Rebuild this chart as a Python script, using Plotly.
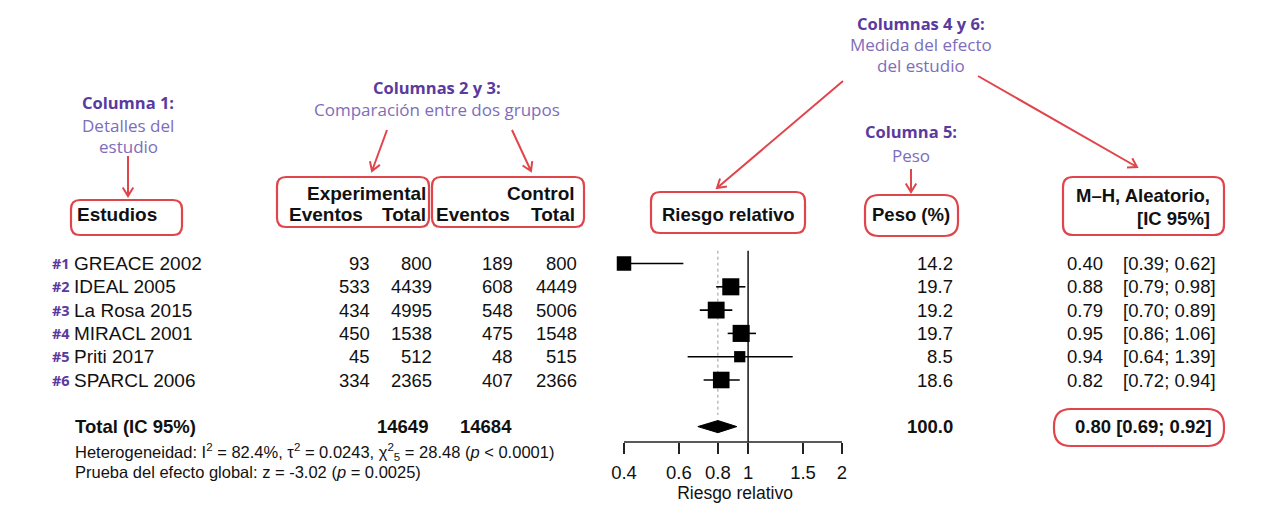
import math
import plotly.graph_objects as go

W, H = 1264, 509

# ---- study data ----
studies = ["GREACE 2002", "IDEAL 2005", "La Rosa 2015", "MIRACL 2001", "Priti 2017", "SPARCL 2006"]
study_tags = ["#1", "#2", "#3", "#4", "#5", "#6"]
exp_events = [93, 533, 434, 450, 45, 334]
exp_total = [800, 4439, 4995, 1538, 512, 2365]
ctrl_events = [189, 608, 548, 475, 48, 407]
ctrl_total = [800, 4449, 5006, 1548, 515, 2366]
weights = [14.2, 19.7, 19.2, 19.7, 8.5, 18.6]
rr = [0.40, 0.88, 0.79, 0.95, 0.94, 0.82]
ci_low = [0.39, 0.79, 0.70, 0.86, 0.64, 0.72]
ci_high = [0.62, 0.98, 0.89, 1.06, 1.39, 0.94]

# ---- pooled result ----
pooled_rr = 0.80
pooled_low = 0.69
pooled_high = 0.92
total_exp = 14649
total_ctrl = 14684
total_weight = 100.0

# ---- forest axis ----
axis_ticks = [0.4, 0.6, 0.8, 1, 1.5, 2]
axis_ticktext = ["0.4", "0.6", "0.8", "1", "1.5", "2"]

# ---- styling ----
RED = "#e0454b"
PURPLE_B = "#5a3a9e"
PURPLE_L = "#7d6dbb"
INK = "#111111"
TXT_FONT = "Liberation Sans, Arial, sans-serif"
CALL_FONT = "Open Sans, sans-serif"


def px(x):
    return x / W


def py(y):
    return 1 - y / H


# row layout: row index -> vertical pixel position
ROW0, STEP = 263.5, 23.3
rows = list(range(1, len(studies) + 1))
total_row = len(studies) + 2
axis_row = 1 + (442 - ROW0) / STEP

# forest plot horizontal mapping (log axis)
X_LEFT, X_RIGHT = 624, 842          # pixel positions of 0.4 and 2
DOM_L, DOM_R = 600, 870
scale = (X_RIGHT - X_LEFT) / (math.log10(axis_ticks[-1]) - math.log10(axis_ticks[0]))
xr0 = math.log10(axis_ticks[0]) - (X_LEFT - DOM_L) / scale
xr1 = math.log10(axis_ticks[-1]) + (DOM_R - X_RIGHT) / scale

y_top = 1 - ROW0 / STEP
y_bot = 1 + (H - ROW0) / STEP

fig = go.Figure()

# reference line at RR = 1
fig.add_trace(go.Scatter(x=[1, 1], y=[0.45, axis_row], mode="lines",
                         line=dict(color="#222", width=1.6), hoverinfo="skip"))
# dotted line at pooled estimate
fig.add_trace(go.Scatter(x=[pooled_rr, pooled_rr], y=[0.45, total_row - 0.5], mode="lines",
                         line=dict(color="#9a9a9a", width=1, dash="dot"), hoverinfo="skip"))
# axis baseline
fig.add_trace(go.Scatter(x=[axis_ticks[0], axis_ticks[-1]], y=[axis_row, axis_row], mode="lines",
                         line=dict(color="#222", width=1.6), hoverinfo="skip"))

# study estimates with confidence intervals
fig.add_trace(go.Scatter(
    x=rr, y=rows, mode="markers",
    marker=dict(symbol="square", color="black", opacity=1,
                size=[3.85 * math.sqrt(w) for w in weights], line=dict(width=0)),
    error_x=dict(type="data", symmetric=False,
                 array=[h - r for h, r in zip(ci_high, rr)],
                 arrayminus=[r - l for r, l in zip(rr, ci_low)],
                 width=0, thickness=1.6, color="black"),
    hoverinfo="skip"))

# pooled diamond
dh = 0.26
fig.add_trace(go.Scatter(
    x=[pooled_low, pooled_rr, pooled_high, pooled_rr, pooled_low],
    y=[total_row, total_row - dh, total_row, total_row + dh, total_row],
    mode="lines", fill="toself", fillcolor="black",
    line=dict(color="black", width=1), hoverinfo="skip"))

ann = []


def text(x, y, s, size=18.5, bold=False, anchor="left", color=INK, font=TXT_FONT, yref="paper"):
    if bold:
        s = f"<b>{s}</b>"
    ann.append(dict(x=x, y=y, xref="paper", yref=yref, text=s, showarrow=False,
                    xanchor=anchor, yanchor="middle",
                    font=dict(family=font, size=size, color=color)))


# ---- table headers ----
text(px(75), py(215), "Estudios", 19, True)
text(px(428), py(193), "Experimental", 19, True, "right")
text(px(287), py(214), "Eventos", 19, True)
text(px(428), py(214), "Total", 19, True, "right")
text(px(577), py(193), "Control", 19, True, "right")
text(px(434), py(214), "Eventos", 19, True)
text(px(577), py(214), "Total", 19, True, "right")
text(px(728), py(214), "Riesgo relativo", 18.5, True, "center")
text(px(911), py(215), "Peso (%)", 18.5, True, "center")
text(px(1212), py(196), "M–H, Aleatorio,", 18.5, True, "right")
text(px(1212), py(218), "[IC 95%]", 18.5, True, "right")

# ---- study rows ----
for i, r in enumerate(rows):
    text(px(50), r, study_tags[i], 14.5, True, "left", PURPLE_B, CALL_FONT, "y")
    text(px(72), r, studies[i], 19, False, "left", yref="y")
    text(px(372), r, str(exp_events[i]), yref="y", anchor="right")
    text(px(434), r, str(exp_total[i]), yref="y", anchor="right")
    text(px(515), r, str(ctrl_events[i]), yref="y", anchor="right")
    text(px(579), r, str(ctrl_total[i]), yref="y", anchor="right")
    text(px(955), r, f"{weights[i]:.1f}", yref="y", anchor="right")
    text(px(1065), r, f"{rr[i]:.2f}", yref="y", anchor="left")
    text(px(1218), r, f"[{ci_low[i]:.2f}; {ci_high[i]:.2f}]", yref="y", anchor="right")

# ---- totals ----
text(px(73), total_row, "Total (IC 95%)", 18.5, True, yref="y")
text(px(430), total_row, str(total_exp), 18.5, True, "right", yref="y")
text(px(514), total_row, str(total_ctrl), 18.5, True, "right", yref="y")
text(px(955), total_row, f"{total_weight:.1f}", 18.5, True, "right", yref="y")
text(px(1214), total_row,
     f"{pooled_rr:.2f} [{pooled_low:.2f}; {pooled_high:.2f}]", 18.5, True, "right", yref="y")

text(px(73), py(452),
     "Heterogeneidad: I<sup>2</sup> = 82.4%, τ<sup>2</sup> = 0.0243, "
     "χ<sup>2</sup><sub>5</sub> = 28.48 (<i>p</i> &lt; 0.0001)", 16.5)
text(px(73), py(472), "Prueba del efecto global: z = -3.02 (<i>p</i> = 0.0025)", 16.5)

# ---- callouts ----
callouts = [
    (128, 103, ["Columna 1:"], [(125, "Detalles del"), (146, "estudio")]),
    (437, 87, ["Columnas 2 y 3:"], [(109, "Comparación entre dos grupos")]),
    (921, 23, ["Columnas 4 y 6:"], [(44, "Medida del efecto"), (66, "del estudio")]),
    (911, 132, ["Columna 5:"], [(155, "Peso")]),
]
for cx, cy, bold_lines, lines in callouts:
    text(px(cx), py(cy), bold_lines[0], 16.5, True, "center", PURPLE_B, CALL_FONT)
    for ly, s in lines:
        text(px(cx), py(ly), s, 17, False, "center", PURPLE_L, CALL_FONT)

shapes = []

# ---- arrows (head, tail) in pixels, drawn as a shaft plus an open chevron ----
arrows = [
    ((128, 196), (128, 156)),
    ((372, 171), (387, 130)),
    ((531, 171), (512, 130)),
    ((717, 188), (843, 81)),
    ((1137, 167), (978, 76)),
    ((911, 192), (911, 169)),
]
HEAD_LEN, HEAD_ANG = 10, math.radians(32)
for (hx, hy), (tx, ty) in arrows:
    ang = math.atan2(ty - hy, tx - hx)
    a1, a2 = ang + HEAD_ANG, ang - HEAD_ANG
    p1 = (hx + HEAD_LEN * math.cos(a1), hy + HEAD_LEN * math.sin(a1))
    p2 = (hx + HEAD_LEN * math.cos(a2), hy + HEAD_LEN * math.sin(a2))
    path = (f"M{px(tx):.5f},{py(ty):.5f} L{px(hx):.5f},{py(hy):.5f} "
            f"M{px(p1[0]):.5f},{py(p1[1]):.5f} L{px(hx):.5f},{py(hy):.5f} "
            f"L{px(p2[0]):.5f},{py(p2[1]):.5f}")
    shapes.append(dict(type="path", xref="paper", yref="paper", path=path,
                       line=dict(color=RED, width=2)))


def rounded_box(x0, y0, x1, y1, r):
    def P(x, y):
        return f"{px(x):.5f},{py(y):.5f}"
    return (f"M{P(x0 + r, y0)} L{P(x1 - r, y0)} Q{P(x1, y0)} {P(x1, y0 + r)} "
            f"L{P(x1, y1 - r)} Q{P(x1, y1)} {P(x1 - r, y1)} L{P(x0 + r, y1)} "
            f"Q{P(x0, y1)} {P(x0, y1 - r)} L{P(x0, y0 + r)} Q{P(x0, y0)} {P(x0 + r, y0)} Z")


boxes = [
    (71, 200, 182, 235, 9),
    (277, 177, 429, 227, 9),
    (432, 177, 584, 227, 9),
    (651, 192, 805, 233, 9),
    (865, 195, 958, 236, 14),
    (1063, 177, 1224, 235, 10),
    (1054, 409, 1224, 446, 17),
]
shapes += [dict(type="path", xref="paper", yref="paper", path=rounded_box(*b),
                line=dict(color=RED, width=2.2), fillcolor="rgba(0,0,0,0)")
           for b in boxes]

fig.update_layout(
    width=W, height=H, margin=dict(l=0, r=0, t=0, b=0),
    paper_bgcolor="white", plot_bgcolor="rgba(0,0,0,0)",
    showlegend=False, annotations=ann, shapes=shapes,
    xaxis=dict(type="log", domain=[px(DOM_L), px(DOM_R)], range=[xr0, xr1],
               anchor="free", position=py(442),
               tickmode="array", tickvals=axis_ticks, ticktext=axis_ticktext,
               ticks="outside", ticklen=11, tickwidth=1.6, tickcolor="#222",
               tickfont=dict(family=TXT_FONT, size=18.5, color=INK),
               ticklabelstandoff=3,
               showline=False, showgrid=False, zeroline=False,
               title=dict(text="Riesgo relativo", standoff=0,
                          font=dict(family=TXT_FONT, size=17.5, color=INK))),
    yaxis=dict(domain=[0, 1], range=[y_bot, y_top], visible=False,
               showgrid=False, zeroline=False),
)

fig.write_html("out.html")
